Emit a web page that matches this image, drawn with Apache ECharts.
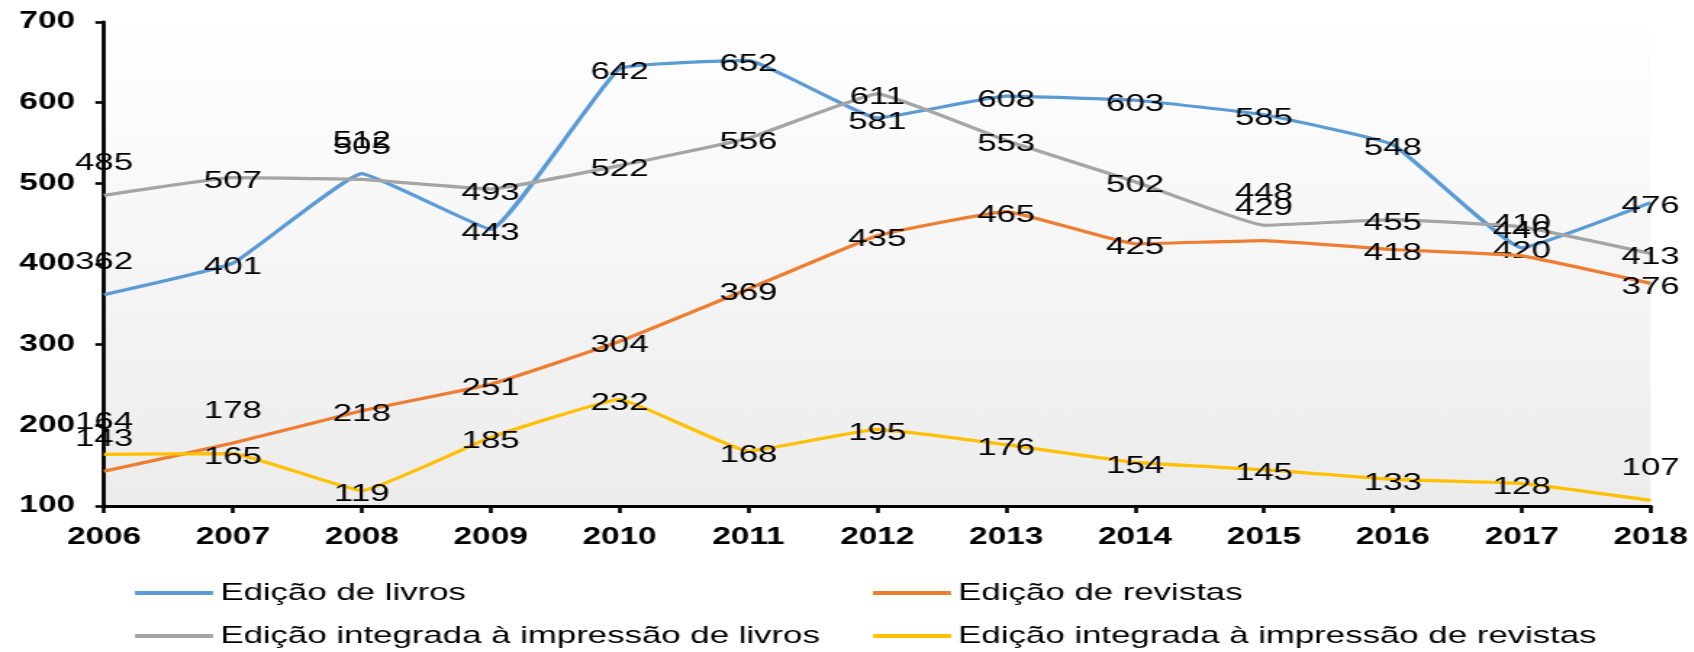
<!DOCTYPE html>
<html>
<head>
<meta charset="utf-8">
<script src="https://cdn.jsdelivr.net/npm/echarts@6/dist/echarts.min.js"></script>
<style>
  html, body { margin: 0; padding: 0; background: #ffffff; overflow: hidden; }
  #wrap { width: 1694px; height: 652px; overflow: hidden; }
  #chart { height: 652px; transform-origin: 0 0; }
</style>
</head>
<body>
<div id="wrap"><div id="chart"></div></div>
<script>
// ---- data ----
const years = ['2006','2007','2008','2009','2010','2011','2012','2013','2014','2015','2016','2017','2018'];
const edicaoLivros = [362, 401, 512, 443, 642, 652, 581, 608, 603, 585, 548, 420, 476];
const edicaoRevistas = [143, 178, 218, 251, 304, 369, 435, 465, 425, 429, 418, 410, 376];
const integradaLivros = [485, 507, 505, 493, 522, 556, 611, 553, 502, 448, 455, 446, 413];
const integradaRevistas = [164, 165, 119, 185, 232, 168, 195, 176, 154, 145, 133, 128, 107];
const yTicks = { min: 100, max: 700, interval: 100 };

const seriesNames = [
  'Edição de livros',
  'Edição de revistas',
  'Edição integrada à impressão de livros',
  'Edição integrada à impressão de revistas'
];

// ---- layout / style (not data) ----
const stretch = 1.45;               // the reference picture is stretched horizontally
const innerW = 1694 / stretch;
const colors = ['#5B9BD5', '#ED7D31', '#A5A5A5', '#FFC000'];
// indices whose data label sits above the point instead of on it
const liftedLabels = [[0, 2], [0, 1, 9, 11], [0, 2, 9], [0, 12]];
// legend slots: [left (px in final picture), row centre y]
const legendSlots = [[135, 593], [873, 593], [135, 636], [873, 636]];

const el = document.getElementById('chart');
el.style.width = innerW + 'px';
el.style.transform = 'scaleX(' + stretch + ')';

const chart = echarts.init(el, null, { renderer: 'canvas' });

function buildData(values, lifted) {
  return values.map((v, i) => lifted.indexOf(i) >= 0
    ? { value: v, label: { offset: [0, -32] } }
    : v);
}

const allValues = [edicaoLivros, edicaoRevistas, integradaLivros, integradaRevistas];

const series = allValues.map((vals, k) => ({
  name: seriesNames[k],
  type: 'line',
  data: buildData(vals, liftedLabels[k]),
  smooth: 0.1,
  symbol: 'circle',
  symbolSize: 0,
  showSymbol: true,
  lineStyle: { color: colors[k], width: 3.2 },
  itemStyle: { color: colors[k] },
  label: {
    show: true,
    position: 'inside',
    offset: [0, 4],
    color: '#000000',
    fontFamily: 'Liberation Sans, Arial, sans-serif',
    fontSize: 24
  },
  z: 2 + k
}));

const legends = seriesNames.map((name, k) => ({
  orient: 'horizontal',
  left: legendSlots[k][0] / stretch,
  top: legendSlots[k][1] - 15,
  padding: 0,
  itemWidth: 78 / stretch,
  itemHeight: 4,
  icon: 'rect',
  data: [name],
  textStyle: {
    fontFamily: 'Liberation Sans, Arial, sans-serif',
    fontSize: 24,
    color: '#000000',
    lineHeight: 30
  }
}));

const axisFont = {
  color: '#000000',
  fontFamily: 'Liberation Sans, Arial, sans-serif',
  fontSize: 23,
  fontWeight: 'bold'
};

chart.setOption({
  animation: false,
  color: colors,
  grid: {
    left: 104 / stretch,
    right: innerW - 1651 / stretch,
    top: 22,
    bottom: 146,
    show: true,
    borderWidth: 0,
    backgroundColor: new echarts.graphic.LinearGradient(0, 0, 0, 1, [
      { offset: 0, color: '#ffffff' },
      { offset: 1, color: '#ececec' }
    ])
  },
  legend: legends,
  xAxis: {
    type: 'category',
    data: years,
    boundaryGap: false,
    axisLine: { show: true, lineStyle: { color: '#000000', width: 3 } },
    axisTick: { show: true, alignWithLabel: true, length: 7, lineStyle: { color: '#000000', width: 2.6 } },
    axisLabel: Object.assign({ margin: 20 }, axisFont),
    splitLine: { show: false }
  },
  yAxis: {
    type: 'value',
    min: yTicks.min,
    max: yTicks.max,
    interval: yTicks.interval,
    axisLine: { show: true, lineStyle: { color: '#000000', width: 2.8 } },
    axisTick: { show: true, length: 6, lineStyle: { color: '#000000', width: 2.6 } },
    axisLabel: Object.assign({ margin: 20 }, axisFont),
    splitLine: { show: false }
  },
  series: series
});
</script>
</body>
</html>
